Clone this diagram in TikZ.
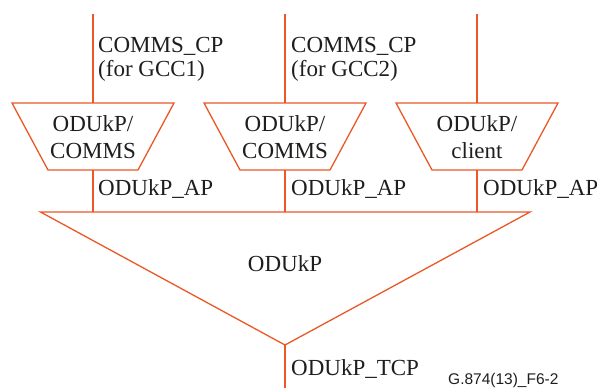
\documentclass[tikz,border=0pt]{standalone}
\usepackage{fontspec}
\setmainfont{Liberation Serif}
\newfontfamily\figfont{Liberation Sans}
\definecolor{ln}{RGB}{234,88,40}
\definecolor{tx}{RGB}{30,30,30}
\tikzset{
  wire/.style={draw=ln, line width=1.3pt},
  shapeline/.style={draw=ln, line width=1.3pt, line join=miter},
  lbl/.style={anchor=base west, inner sep=0pt, text=tx, font=\fontsize{23}{27}\selectfont},
  clbl/.style={anchor=base, inner sep=0pt, text=tx, font=\fontsize{23}{27}\selectfont},
}
\begin{document}
\begin{tikzpicture}[x=1pt,y=-1pt]
\useasboundingbox (0,0) rectangle (597,388);
% trapezoids
\foreach \c/\n in {93/ta,285/tb,477/tc}{
  \draw[shapeline] (\c-81,103) -- (\c+81,103) -- (\c+45,170) -- (\c-45,170) -- cycle;
  \coordinate (\n top) at (\c,103);
  \coordinate (\n bot) at (\c,170);
  \coordinate (\n in) at (\c,14);
  \coordinate (\n out) at (\c,212);
}
% triangle
\coordinate (trL) at (40.5,212);
\coordinate (trR) at (530,212);
\coordinate (apex) at (285,345);
\coordinate (tcp) at (285,388);
\draw[shapeline] (trL) -- (trR) -- (apex) -- cycle;
% connectors
\foreach \n in {ta,tb,tc}{
  \draw[wire] (\n in) -- (\n top);
  \draw[wire] (\n bot) -- (\n out);
}
\draw[wire] (apex) -- (tcp);
% labels
\node[lbl] (c1a) at (98,52) {COMMS\_CP};
\node[lbl] (c1b) at (98,76.5) {(for GCC1)};
\node[lbl] (c2a) at (291,52) {COMMS\_CP};
\node[lbl] (c2b) at (291,76.5) {(for GCC2)};
\node[clbl] (t1a) at (93,131) {ODUkP/};
\node[clbl] (t1b) at (93,158) {COMMS};
\node[clbl] (t2a) at (285,131) {ODUkP/};
\node[clbl] (t2b) at (285,158) {COMMS};
\node[clbl] (t3a) at (477,131) {ODUkP/};
\node[clbl] (t3b) at (477,158) {client};
\node[lbl] (ap1) at (98,195) {ODUkP\_AP};
\node[lbl] (ap2) at (291,195) {ODUkP\_AP};
\node[lbl] (ap3) at (483,195) {ODUkP\_AP};
\node[clbl] (odukp) at (285,271.5) {ODUkP};
\node[lbl] (tcpl) at (291,375) {ODUkP\_TCP};
\node[anchor=base west, inner sep=0pt, text=tx, font=\figfont\fontsize{15.5}{18}\selectfont] (fig) at (448,384.5) {G.874(13)\_F6-2};
\end{tikzpicture}
\end{document}
